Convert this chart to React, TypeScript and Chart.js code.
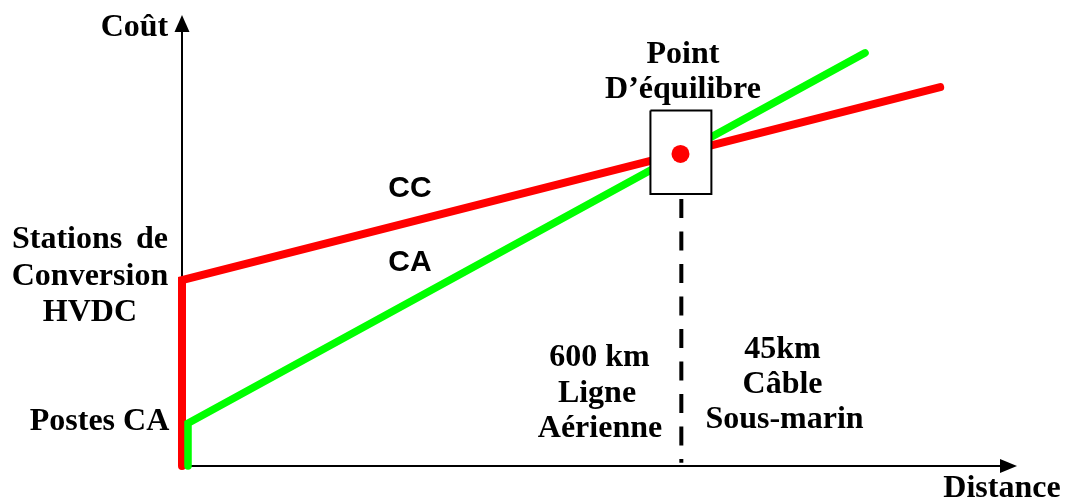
import { useEffect, useRef } from 'react';
import { Chart, registerables } from 'chart.js';

Chart.register(...registerables);

// Distance axis (arbitrary units, 0..1000) and cost axis (0..100)
const ccDistance = [0, 0, 908];
const ccCost = [0, 41.2, 84];
const caDistance = [7.2, 7.2, 818];
const caCost = [0, 9.5, 91.6];
const boxDistance = [561, 634, 634, 561, 561];
const boxCost = [78.8, 78.8, 60.3, 60.3, 78.8];
const equilibriumDistance = [597];
const equilibriumCost = [69.2];
const splitDistance = [598, 598];
const splitCost = [59.2, 0.7];

type Label = { text: string; x: number; y: number; align: CanvasTextAlign; sans?: boolean };
const labels: Label[] = [
  { text: 'Coût', x: -56.9, y: 95.4, align: 'center' },
  { text: 'Point', x: 600, y: 89.4, align: 'center' },
  { text: 'D’équilibre', x: 600, y: 81.6, align: 'center' },
  { text: 'CC', x: 273, y: 59.6, align: 'center', sans: true },
  { text: 'CA', x: 273, y: 43.3, align: 'center', sans: true },
  { text: 'Stations', x: -203.6, y: 48.4, align: 'left' },
  { text: 'de', x: -16.8, y: 48.4, align: 'right' },
  { text: 'Conversion', x: -110.2, y: 40.2, align: 'center' },
  { text: 'HVDC', x: -110.2, y: 32.2, align: 'center' },
  { text: 'Postes CA', x: -98.8, y: 8.0, align: 'center' },
  { text: '600 km', x: 500, y: 22.2, align: 'center' },
  { text: 'Ligne', x: 497, y: 14.2, align: 'center' },
  { text: 'Aérienne', x: 500.6, y: 6.5, align: 'center' },
  { text: '45km', x: 719.2, y: 24.0, align: 'center' },
  { text: 'Câble', x: 719.2, y: 16.2, align: 'center' },
  { text: 'Sous-marin', x: 721.6, y: 8.4, align: 'center' },
  { text: 'Distance', x: 982, y: -6.8, align: 'center' },
];

const pts = (xs: number[], ys: number[]) => xs.map((x, i) => ({ x, y: ys[i] }));

const decorPlugin = {
  id: 'decor',
  beforeDatasetsDraw(chart: any) {
    const { ctx, scales } = chart;
    const xs = scales.x;
    const ys = scales.y;
    const x0 = xs.getPixelForValue(0);
    const y0 = ys.getPixelForValue(0);
    const xTip = xs.getPixelForValue(1000);
    const yTip = ys.getPixelForValue(100);
    ctx.save();
    ctx.strokeStyle = '#000';
    ctx.fillStyle = '#000';
    ctx.lineWidth = 2;
    ctx.beginPath();
    ctx.moveTo(x0, y0);
    ctx.lineTo(x0, yTip + 14);
    ctx.moveTo(x0, y0);
    ctx.lineTo(xTip - 14, y0);
    ctx.stroke();
    ctx.beginPath();
    ctx.moveTo(x0, yTip);
    ctx.lineTo(x0 - 7.5, yTip + 17);
    ctx.lineTo(x0 + 7.5, yTip + 17);
    ctx.closePath();
    ctx.fill();
    ctx.beginPath();
    ctx.moveTo(xTip, y0);
    ctx.lineTo(xTip - 17, y0 - 7);
    ctx.lineTo(xTip - 17, y0 + 7);
    ctx.closePath();
    ctx.fill();
    ctx.restore();
  },
  afterDraw(chart: any) {
    const { ctx, scales } = chart;
    ctx.save();
    ctx.fillStyle = '#000';
    ctx.textBaseline = 'alphabetic';
    for (const l of labels) {
      ctx.font = l.sans ? 'bold 30px "Liberation Sans"' : 'bold 32px "Liberation Serif"';
      ctx.textAlign = l.align;
      ctx.fillText(l.text, scales.x.getPixelForValue(l.x), scales.y.getPixelForValue(l.y));
    }
    ctx.restore();
  },
};

export default function App() {
  const ref = useRef<HTMLCanvasElement | null>(null);
  useEffect(() => {
    document.body.style.margin = '0';
    const canvas = ref.current;
    if (!canvas) return;
    const lineBase = {
      type: 'line' as const,
      showLine: true,
      pointRadius: 0,
      fill: false,
      clip: false as any,
      borderCapStyle: 'round' as const,
      borderJoinStyle: 'miter' as const,
      tension: 0,
    };
    const chart = new Chart(canvas, {
      type: 'line',
      data: {
        datasets: [
          { ...lineBase, label: 'CC', data: pts(ccDistance, ccCost), borderColor: '#ff0000', borderWidth: 8, order: 4 },
          { ...lineBase, label: 'CA', data: pts(caDistance, caCost), borderColor: '#00ff00', borderWidth: 7.5, order: 3 },
          {
            ...lineBase,
            label: 'box',
            data: pts(boxDistance, boxCost),
            borderColor: '#000',
            borderWidth: 2,
            borderCapStyle: 'butt',
            fill: 'shape' as any,
            backgroundColor: '#ffffff',
            order: 2,
          },
          {
            type: 'line',
            label: 'équilibre',
            data: pts(equilibriumDistance, equilibriumCost),
            showLine: false,
            pointRadius: 9,
            pointBorderWidth: 0,
            pointBackgroundColor: '#ff0000',
            pointBorderColor: '#ff0000',
            clip: false as any,
            order: 1,
          },
          {
            ...lineBase,
            label: 'split',
            data: pts(splitDistance, splitCost),
            borderColor: '#000',
            borderWidth: 4,
            borderCapStyle: 'butt',
            borderDash: [19, 13.5],
            order: 5,
          },
        ],
      },
      options: {
        animation: false,
        responsive: false,
        events: [],
        parsing: true,
        layout: { padding: { left: 182, top: 15, right: 49, bottom: 37 } },
        scales: {
          x: { type: 'linear', min: 0, max: 1000, display: false },
          y: { type: 'linear', min: 0, max: 100, display: false },
        },
        plugins: { legend: { display: false }, tooltip: { enabled: false } },
      },
      plugins: [decorPlugin],
    });
    return () => chart.destroy();
  }, []);
  return (
    <div style={{ position: 'fixed', left: 0, top: 0, width: 1066, height: 503, background: '#fff' }}>
      <canvas ref={ref} width={1066} height={503} style={{ width: 1066, height: 503, display: 'block' }} />
    </div>
  );
}
